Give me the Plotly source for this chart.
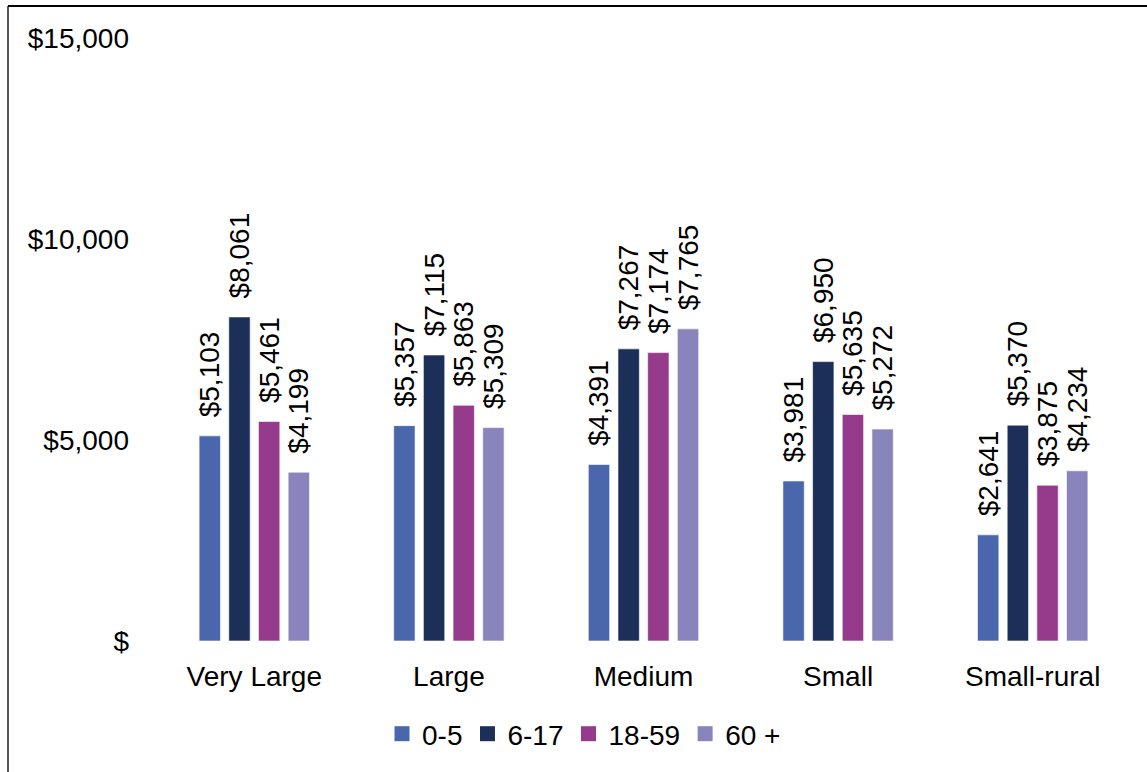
import plotly.graph_objects as go

categories = ["Very Large", "Large", "Medium", "Small", "Small-rural"]
series_names = ["0-5", "6-17", "18-59", "60 +"]
vals_0_5 = [5103, 5357, 4391, 3981, 2641]
vals_6_17 = [8061, 7115, 7267, 6950, 5370]
vals_18_59 = [5461, 5863, 7174, 5635, 3875]
vals_60 = [4199, 5309, 7765, 5272, 4234]
colors = ["#4A67AE", "#1B2F59", "#963A8C", "#8985BC"]
tick_vals = [0, 5000, 10000, 15000]
tick_text = ["$", "$5,000", "$10,000", "$15,000"]

W, H = 1147, 772
ml, mr, mt, mb = 157, 17, 38, 131
FONT = "Arial, Liberation Sans, sans-serif"
NB = "\u00a0"

fig = go.Figure()
for name, vals, c in zip(series_names, [vals_0_5, vals_6_17, vals_18_59, vals_60], colors):
    fig.add_trace(go.Bar(
        name=name, x=categories, y=vals, showlegend=False,
        marker=dict(color=c, line=dict(color="rgba(255,255,255,0.6)", width=1)),
        text=[f"{NB}{NB}${v:,}" for v in vals], textposition="outside", textangle=-90,
        constraintext="none", cliponaxis=False,
        textfont=dict(size=28, color="#000000", family=FONT),
    ))
# legend entries (square swatches)
for name, c in zip(series_names, colors):
    fig.add_trace(go.Scatter(
        name=name, x=[None], y=[None], mode="markers",
        marker=dict(symbol="square", size=15, color=c), showlegend=True,
    ))

def px2x(px):
    return (px - ml) / (W - ml - mr)

def py2y(py):
    return (H - mb - py) / (H - mt - mb)

fig.add_shape(type="line", xref="paper", yref="paper", x0=px2x(8), x1=px2x(8), y0=py2y(6), y1=py2y(780),
              line=dict(color="#595959", width=2))
fig.add_shape(type="line", xref="paper", yref="paper", x0=px2x(8), x1=px2x(1160), y0=py2y(6), y1=py2y(6),
              line=dict(color="#000000", width=2))

fig.update_layout(
    width=W, height=H, margin=dict(l=ml, r=mr, t=mt, b=mb, pad=0),
    paper_bgcolor="white", plot_bgcolor="white",
    barmode="group", bargap=0.39, bargroupgap=0.28,
    font=dict(family=FONT, size=28, color="#000000"),
    xaxis=dict(showgrid=False, showline=False, ticks="", tickfont=dict(size=28), ticklabelstandoff=16),
    yaxis=dict(range=[0, 15000], tickvals=tick_vals, ticktext=tick_text, showgrid=False,
               showline=False, zeroline=False, ticks="", tickfont=dict(size=28), ticklabelstandoff=27),
    legend=dict(orientation="h", xanchor="center", x=px2x(584), yanchor="middle", y=py2y(734),
                font=dict(size=28), itemwidth=30, traceorder="normal"),
    showlegend=True,
)

fig.write_html("out.html")
